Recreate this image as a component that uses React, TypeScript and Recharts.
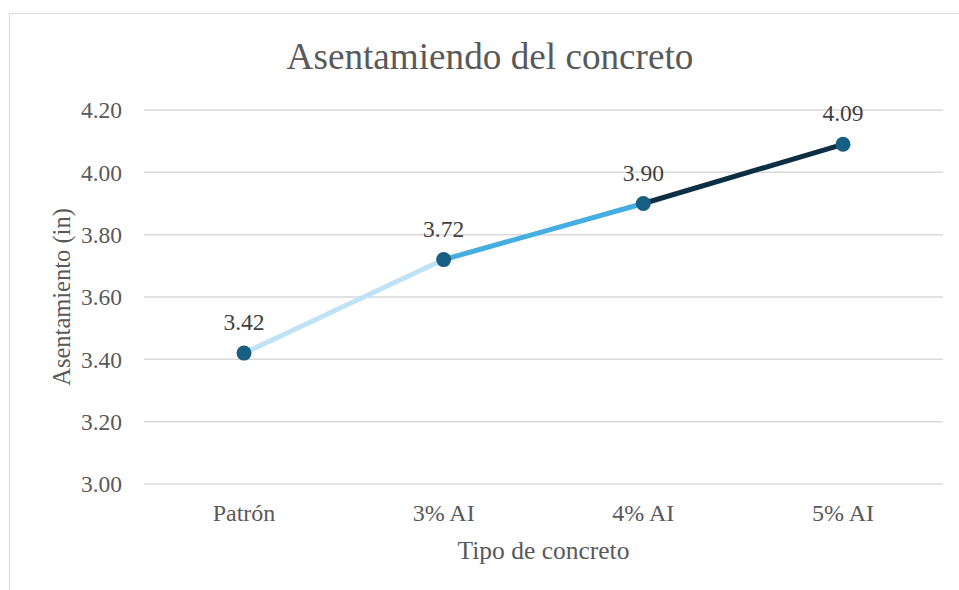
import React from 'react';
import { LineChart, Line, XAxis, YAxis, CartesianGrid, LabelList, Label } from 'recharts';

const categories = ['Patrón', '3% AI', '4% AI', '5% AI'];
const asentamiento = [3.42, 3.72, 3.9, 4.09];
const yTicks = [3.0, 3.2, 3.4, 3.6, 3.8, 4.0, 4.2];
const segmentColors = ['#bfe3f4', '#45ade0', '#0d2f44'];

const FONT = 'Liberation Serif, serif';

// One row per category; each coloured segment only holds its two end points.
const data = categories.map((name, i) => {
  const row: Record<string, string | number | null> = { name, value: asentamiento[i] };
  segmentColors.forEach((_, s) => {
    row[`seg${s}`] = i === s || i === s + 1 ? asentamiento[i] : null;
  });
  return row;
});

const YTitle = (props: any) => {
  const { viewBox } = props;
  const cx = viewBox.x + 61;
  const cy = viewBox.y + viewBox.height / 2;
  return (
    <text
      x={cx}
      y={cy}
      transform={`rotate(-90, ${cx}, ${cy})`}
      textAnchor="middle"
      dominantBaseline="central"
      fill="#595959"
      fontSize={24.5}
      fontFamily={FONT}
    >
      Asentamiento (in)
    </text>
  );
};

export default function App() {
  return (
    <div
      style={{
        position: 'absolute',
        left: 0,
        top: 0,
        width: 959,
        height: 590,
        overflow: 'hidden',
        background: '#fff',
        fontFamily: FONT,
      }}
    >
      <div
        style={{
          position: 'absolute',
          left: 9,
          top: 13,
          width: 1000,
          height: 700,
          border: '1.5px solid #d9d9d9',
        }}
      />
      <div
        style={{
          position: 'absolute',
          left: 0,
          width: 980,
          top: 34,
          textAlign: 'center',
          fontSize: 37.2,
          lineHeight: '46px',
          color: '#595959',
        }}
      >
        Asentamiendo del concreto
      </div>
      <div style={{ position: 'absolute', left: 0, top: 0 }}>
        <LineChart
          width={959}
          height={590}
          data={data}
          margin={{ top: 110, right: 16, bottom: 0, left: 0 }}
        >
          <CartesianGrid vertical={false} stroke="#d9d9d9" strokeWidth={1.5} />
          <XAxis
            dataKey="name"
            height={106}
            axisLine={false}
            tickLine={false}
            tickSize={0}
            tickMargin={20}
            padding={{ left: 100, right: 100 }}
            tick={{ fill: '#595959', fontSize: 24, fontFamily: FONT }}
          >
            <Label
              value="Tipo de concreto"
              position="insideBottom"
              offset={31}
              fill="#595959"
              fontSize={25.5}
              fontFamily={FONT}
            />
          </XAxis>
          <YAxis
            width={144}
            domain={[3, 4.2]}
            ticks={yTicks}
            interval={0}
            axisLine={false}
            tickLine={false}
            tickSize={0}
            tickMargin={22}
            tickFormatter={(v: number) => v.toFixed(2)}
            tick={{ fill: '#595959', fontSize: 23.5, fontFamily: FONT }}
          >
            <Label content={YTitle} />
          </YAxis>
          {segmentColors.map((color, s) => (
            <Line
              key={s}
              type="linear"
              dataKey={`seg${s}`}
              stroke={color}
              strokeWidth={5}
              dot={false}
              activeDot={false}
              connectNulls={false}
              isAnimationActive={false}
            />
          ))}
          <Line
            type="linear"
            dataKey="value"
            stroke="none"
            dot={{ r: 7.5, fill: '#175f85', stroke: '#175f85', strokeWidth: 0 }}
            activeDot={false}
            isAnimationActive={false}
          >
            <LabelList
              dataKey="value"
              position="top"
              offset={23}
              formatter={(v: number) => Number(v).toFixed(2)}
              fill="#404040"
              fontSize={23.5}
              fontFamily={FONT}
            />
          </Line>
        </LineChart>
      </div>
    </div>
  );
}
